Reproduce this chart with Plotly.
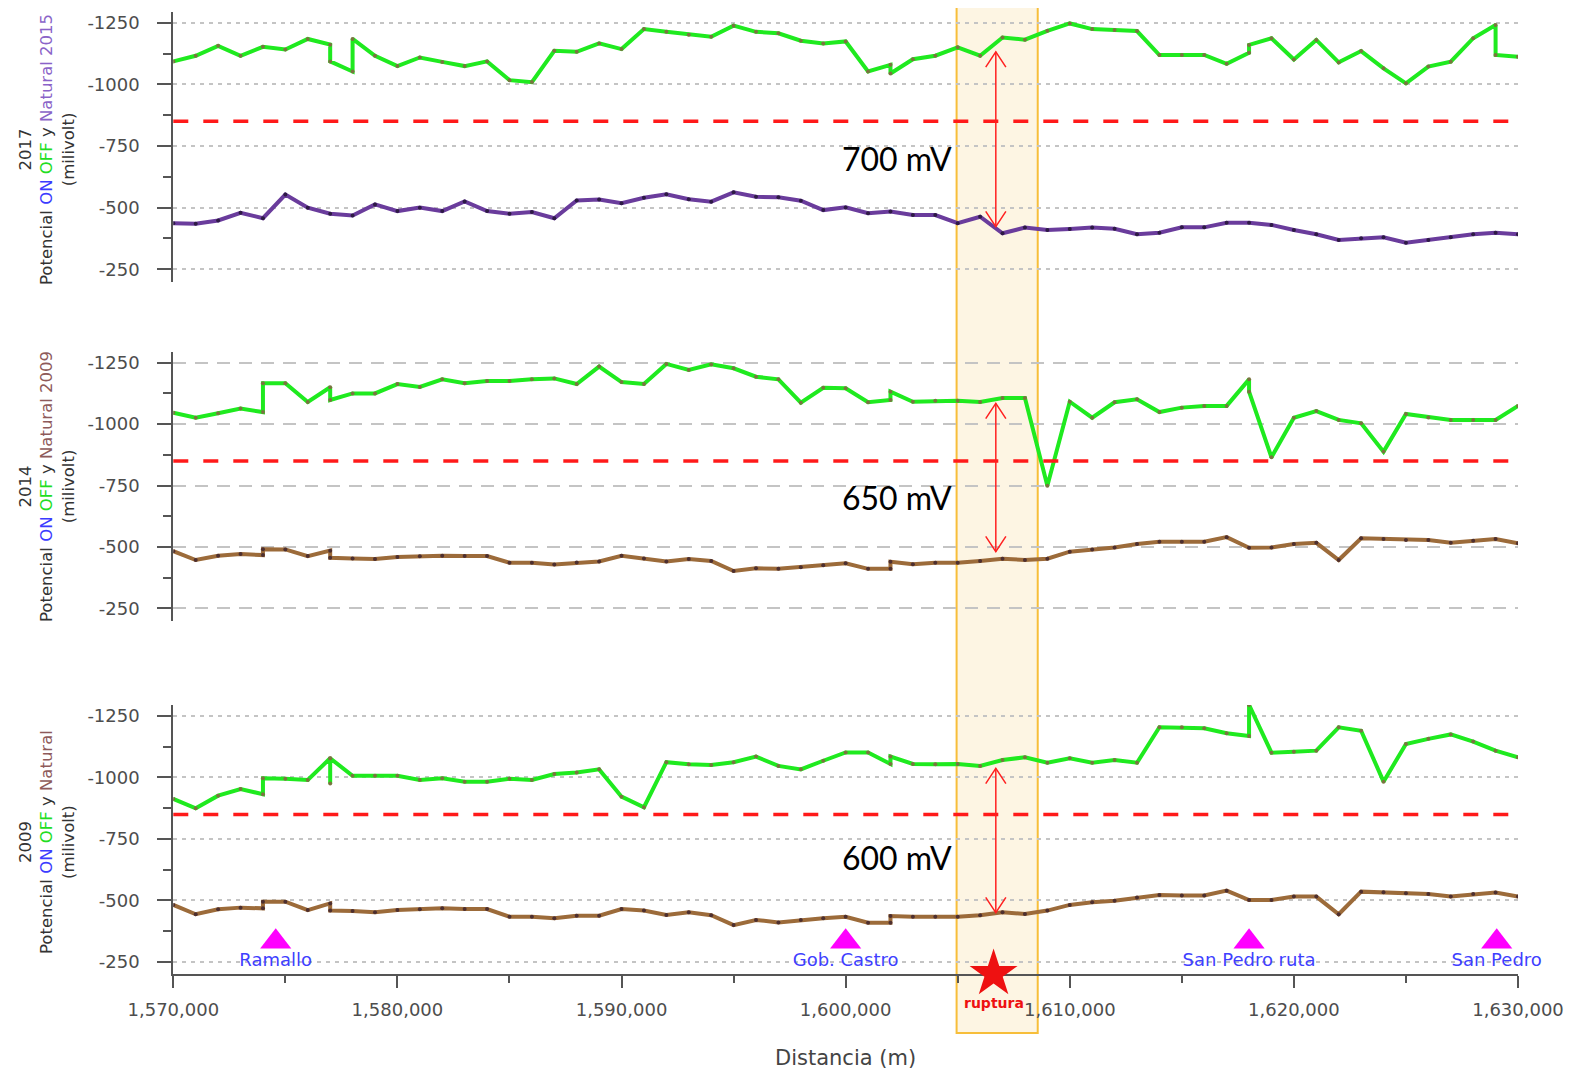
import plotly.graph_objects as go

# ---------------- data (distance in km, potential in mV) ----------------
KM_OFF_2017 = [1570, 1571, 1572, 1573, 1574, 1575, 1576, 1577, 1577, 1578, 1578, 1579, 1580, 1581, 1582, 1583,
               1584, 1585, 1586, 1587, 1588, 1589, 1590, 1591, 1592, 1593, 1594, 1595, 1596, 1597, 1598, 1599,
               1600, 1601, 1602, 1602, 1603, 1604, 1605, 1606, 1607, 1608, 1609, 1610, 1611, 1612, 1613, 1614,
               1615, 1616, 1617, 1618, 1618, 1619, 1620, 1621, 1622, 1623, 1624, 1625, 1626, 1627, 1628, 1629,
               1629, 1630]
MV_OFF_2017 = [-1093, -1116, -1156, -1116, -1152, -1141, -1184, -1161, -1093, -1052, -1184, -1116, -1074, -1109,
               -1091, -1074, -1093, -1017, -1009, -1136, -1132, -1166, -1143, -1224, -1213, -1201, -1193, -1238,
               -1213, -1207, -1177, -1166, -1174, -1052, -1079, -1044, -1102, -1116, -1150, -1116, -1190, -1181,
               -1217, -1247, -1224, -1220, -1216, -1119, -1119, -1119, -1083, -1128, -1160, -1187, -1101, -1180,
               -1089, -1135, -1065, -1004, -1072, -1092, -1187, -1241, -1119, -1112]

KM_NAT_2015 = list(range(1570, 1631))
MV_NAT_2015 = [-437, -435, -448, -479, -457, -553, -500, -475, -468, -513, -486, -500, -486, -525, -486, -475,
               -482, -457, -529, -533, -518, -540, -554, -534, -524, -562, -544, -542, -528, -490, -501, -477,
               -484, -470, -470, -437, -463, -396, -419, -409, -413, -419, -414, -392, -398, -420, -420, -439,
               -439, -430, -409, -392, -369, -376, -380, -358, -369, -380, -392, -398, -392]

KM_OFF_2014 = [1570, 1571, 1572, 1573, 1574, 1574, 1575, 1576, 1577, 1577, 1578, 1579, 1580, 1581, 1582, 1583,
               1584, 1585, 1586, 1587, 1588, 1589, 1590, 1591, 1592, 1593, 1594, 1595, 1596, 1597, 1598, 1599,
               1600, 1601, 1602, 1602, 1603, 1604, 1605, 1606, 1607, 1608, 1609, 1610, 1611, 1612, 1613, 1614,
               1615, 1616, 1617, 1618, 1618, 1619, 1620, 1621, 1622, 1623, 1624, 1625, 1626, 1627, 1628, 1629,
               1630]
MV_OFF_2014 = [-1046, -1026, -1044, -1063, -1049, -1166, -1166, -1090, -1150, -1098, -1125, -1125, -1163, -1151,
               -1182, -1166, -1175, -1175, -1182, -1186, -1163, -1234, -1171, -1163, -1245, -1220, -1243, -1227,
               -1193, -1182, -1087, -1148, -1146, -1089, -1098, -1132, -1091, -1095, -1095, -1090, -1106, -1106,
               -749, -1091, -1026, -1089, -1101, -1049, -1067, -1074, -1074, -1182, -1132, -865, -1026, -1053,
               -1017, -1003, -888, -1041, -1027, -1017, -1017, -1017, -1074]

KM_NAT_2009A = [1570, 1571, 1572, 1573, 1574, 1574, 1575, 1576, 1577, 1577, 1578, 1579, 1580, 1581, 1582, 1583,
                1584, 1585, 1586, 1587, 1588, 1589, 1590, 1591, 1592, 1593, 1594, 1595, 1596, 1597, 1598, 1599,
                1600, 1601, 1602, 1602, 1603, 1604, 1605, 1606, 1607, 1608, 1609, 1610, 1611, 1612, 1613, 1614,
                1615, 1616, 1617, 1618, 1619, 1620, 1621, 1622, 1623, 1624, 1625, 1626, 1627, 1628, 1629, 1630]
MV_NAT_2009A = [-483, -447, -464, -471, -467, -491, -490, -463, -485, -456, -453, -451, -459, -462, -464, -463,
                -463, -436, -436, -429, -437, -441, -464, -453, -441, -451, -443, -402, -413, -411, -418, -426,
                -434, -411, -411, -440, -430, -436, -436, -443, -452, -447, -452, -481, -490, -498, -512, -521,
                -521, -521, -540, -497, -498, -512, -517, -447, -535, -532, -528, -528, -517, -525, -532, -515]

KM_OFF_2009 = [1570, 1571, 1572, 1573, 1574, 1574, 1575, 1576, 1577, 1577, 1577, 1578, 1579, 1580, 1581, 1582,
               1583, 1584, 1585, 1586, 1587, 1588, 1589, 1590, 1591, 1592, 1593, 1594, 1595, 1596, 1597, 1598,
               1599, 1600, 1601, 1602, 1602, 1603, 1604, 1605, 1606, 1607, 1608, 1609, 1610, 1611, 1612, 1613,
               1614, 1615, 1616, 1617, 1618, 1618, 1619, 1620, 1621, 1622, 1623, 1624, 1625, 1626, 1627, 1628,
               1629, 1630]
MV_OFF_2009 = [-913, -875, -926, -953, -932, -997, -995, -990, -1078, -976, -1078, -1007, -1007, -1007, -990,
               -997, -983, -983, -995, -990, -1014, -1020, -1033, -922, -879, -1062, -1054, -1051, -1062, -1085,
               -1047, -1033, -1068, -1102, -1102, -1055, -1085, -1055, -1054, -1055, -1047, -1071, -1082, -1060,
               -1078, -1060, -1071, -1060, -1204, -1204, -1200, -1180, -1169, -1295, -1101, -1105, -1109, -1204,
               -1190, -983, -1136, -1157, -1175, -1146, -1109, -1082]

KM_NAT_2009B = KM_NAT_2009A
MV_NAT_2009B = [-482, -444, -464, -471, -468, -495, -495, -461, -488, -459, -457, -452, -461, -464, -468, -465,
                -465, -434, -434, -428, -438, -438, -465, -459, -441, -452, -440, -400, -421, -411, -421, -428,
                -434, -410, -410, -437, -434, -434, -434, -440, -452, -445, -459, -482, -493, -499, -512, -522,
                -520, -520, -540, -502, -502, -516, -516, -444, -536, -533, -529, -526, -516, -526, -532, -516]

CRITERIO_MV = -850
STATION_NAMES = ["Ramallo", "Gob. Castro", "San Pedro ruta", "San Pedro"]
STATION_KM = [1574.57, 1600.0, 1618.0, 1629.05]
STATION_MARK_MV = -332
STATION_LABEL_MV = -251
RUPTURA_KM = 1606.6
RUPTURA_MV = -202
BAND_KM = [1604.95, 1608.57]
ARROW_KM = 1606.7
ARROW_ENDS = [(-1132, -423), (-1084, -481), (-1037, -451)]
DIFF_LABELS = ["700 mV", "650 mV", "600 mV"]
DIFF_LABEL_MV = [-701, -701, -675]
DIFF_LABEL_KM = 1602.3
X_TICKS = [1570000, 1580000, 1590000, 1600000, 1610000, 1620000, 1630000]
X_MINOR = [1575000, 1585000, 1595000, 1605000, 1615000, 1625000]
Y_TICKS = [-1250, -1000, -750, -500, -250]
Y_TICK_LABELS = ["-1250", "-1000", "-750", "-500", "-250"]
Y_MINOR = [-1125, -875, -625, -375]
YEARS = ["2017", "2014", "2009"]
NATURAL_NAMES = ["Natural 2015", "Natural 2009", "Natural"]

# ---------------- styling / page geometry ----------------
PAGE_W, PAGE_H = 1576, 1072
BODY_MARGIN = 8                      # default html body margin
FIG_W, FIG_H = PAGE_W - BODY_MARGIN, PAGE_H - BODY_MARGIN


def px_x(sx):
    return (sx - BODY_MARGIN) / FIG_W


def px_y(sy):
    return 1 - (sy - BODY_MARGIN) / FIG_H


X_DOM = [px_x(173.3), px_x(1518)]
PANELS_PX = [(11.6, 281.6), (351.6, 620.7), (704.9, 974.3)]
Y_DOMS = [[px_y(b), px_y(t)] for t, b in PANELS_PX]
TITLE_CENTER_PX = [150, 487, 842]
Y_RANGE = [-200, -1295]
GREEN, GREEN_DOT = "#1FEA1F", "#7A7440"
PURPLE, PURPLE_DOT = "#6A3C9C", "#2E1A45"
BROWN, BROWN_DOT = "#9C6B3A", "#4D2F2F"
NAT_TITLE_COLORS = ["#8a63c8", "#8e5a5a", "#8e5a5a"]
GRID_DASH = ["4px,5px", "13px,9px", "4px,5px"]
FONT = "DejaVu Sans"
AXIS_COL = "#555555"
TICK_COL = "#4d4d4d"


def m(km_list):
    return [k * 1000 for k in km_list]


fig = go.Figure()

series = [
    (KM_OFF_2017, MV_OFF_2017, GREEN, GREEN_DOT, 1),
    (KM_NAT_2015, MV_NAT_2015, PURPLE, PURPLE_DOT, 1),
    (KM_OFF_2014, MV_OFF_2014, GREEN, GREEN_DOT, 2),
    (KM_NAT_2009A, MV_NAT_2009A, BROWN, BROWN_DOT, 2),
    (KM_OFF_2009, MV_OFF_2009, GREEN, GREEN_DOT, 3),
    (KM_NAT_2009B, MV_NAT_2009B, BROWN, BROWN_DOT, 3),
]
for km, mv, col, dot, p in series:
    sfx = "" if p == 1 else str(p)
    fig.add_trace(go.Scatter(
        x=m(km), y=mv, mode="lines+markers", xaxis="x" + sfx, yaxis="y" + sfx,
        line=dict(color=col, width=4), marker=dict(color=dot, size=4),
        hoverinfo="x+y", showlegend=False))

# stations
fig.add_trace(go.Scatter(
    x=m(STATION_KM), y=[STATION_MARK_MV] * len(STATION_KM), mode="markers",
    xaxis="x3", yaxis="y3", cliponaxis=False, showlegend=False,
    marker=dict(symbol="triangle-up", size=27, color="#FF00FF", line=dict(width=0))))
fig.add_trace(go.Scatter(
    x=m(STATION_KM), y=[STATION_LABEL_MV] * len(STATION_KM), mode="text",
    text=STATION_NAMES, textposition="middle center", xaxis="x3", yaxis="y3",
    cliponaxis=False, showlegend=False,
    textfont=dict(family=FONT, size=18, color="#3F3FFF")))
# rupture star
fig.add_trace(go.Scatter(
    x=[RUPTURA_KM * 1000], y=[RUPTURA_MV], mode="markers", xaxis="x3", yaxis="y3",
    cliponaxis=False, showlegend=False,
    marker=dict(symbol="star", size=36, color="#EE1111", line=dict(width=0))))

shapes = []
annotations = []
# highlighted band
shapes.append(dict(type="rect", xref="x3", yref="paper",
                   x0=BAND_KM[0] * 1000, x1=BAND_KM[1] * 1000,
                   y0=px_y(1033), y1=px_y(5.7),
                   fillcolor="#FDF5E3", line=dict(color="#F7BE3A", width=2), layer="below"))

head_h = 62
head_w = 450
ax_m = ARROW_KM * 1000
for i in range(3):
    sfx = "" if i == 0 else str(i + 1)
    yref = "y" + sfx
    # -850 mV criterion
    shapes.append(dict(type="line", xref="x" + sfx + " domain", yref=yref, x0=0, x1=1,
                       y0=CRITERIO_MV, y1=CRITERIO_MV,
                       line=dict(color="#FF1A1A", width=3.5, dash="15px,15px")))
    top, bot = ARROW_ENDS[i]
    shapes.append(dict(type="line", xref="x" + sfx, yref=yref, x0=ax_m, x1=ax_m, y0=top, y1=bot,
                       line=dict(color="#FF2020", width=1.5)))
    path = (f"M {ax_m - head_w},{top + head_h} L {ax_m},{top} L {ax_m + head_w},{top + head_h} "
            f"M {ax_m - head_w},{bot - head_h} L {ax_m},{bot} L {ax_m + head_w},{bot - head_h}")
    shapes.append(dict(type="path", xref="x" + sfx, yref=yref, path=path,
                       line=dict(color="#FF2020", width=1.5)))
    annotations.append(dict(x=DIFF_LABEL_KM * 1000, y=DIFF_LABEL_MV[i], xref="x" + sfx, yref=yref,
                            text=DIFF_LABELS[i], showarrow=False, xanchor="center", yanchor="middle",
                            font=dict(family="Lato", size=32, color="#000000")))
    # y-axis titles
    title = (f"{YEARS[i]}<br>Potencial <span style='color:#3b3bff'>ON</span> "
             f"<span style='color:#22dd22'>OFF</span> y "
             f"<span style='color:{NAT_TITLE_COLORS[i]}'>{NATURAL_NAMES[i]}</span><br>(milivolt)")
    annotations.append(dict(x=px_x(47), y=px_y(TITLE_CENTER_PX[i]), xref="paper", yref="paper",
                            text=title, textangle=-90, showarrow=False,
                            xanchor="center", yanchor="middle",
                            font=dict(family=FONT, size=16.5, color="#333333")))

annotations.append(dict(x=RUPTURA_KM * 1000, y=px_y(1003), xref="x3", yref="paper",
                        text="<b>ruptura</b>", showarrow=False, xanchor="center", yanchor="middle",
                        font=dict(family=FONT, size=14, color="#EE1111")))
annotations.append(dict(x=(X_DOM[0] + X_DOM[1]) / 2, y=px_y(1058), xref="paper", yref="paper",
                        text="Distancia (m)", showarrow=False, xanchor="center", yanchor="middle",
                        font=dict(family=FONT, size=21, color="#444444")))

layout = dict(
    template="none",
    width=FIG_W, height=FIG_H, margin=dict(l=0, r=0, t=0, b=0, pad=0), autosize=False,
    paper_bgcolor="white", plot_bgcolor="rgba(0,0,0,0)",
    showlegend=False, shapes=shapes, annotations=annotations,
    font=dict(family=FONT, color="#444444"),
)
for i in range(3):
    sfx = "" if i == 0 else str(i + 1)
    bottom = (i == 2)
    xa = dict(domain=X_DOM, range=[1570000, 1630000], anchor="y" + sfx, automargin=False,
              showgrid=False, zeroline=False, fixedrange=True)
    if i > 0:
        xa["matches"] = "x"
    if bottom:
        xa.update(showline=True, linecolor=AXIS_COL, linewidth=2, ticks="outside", ticklen=12,
                  tickwidth=1.5, tickcolor=AXIS_COL, tickvals=X_TICKS, tickformat=",d",
                  ticklabelstandoff=6, layer="below traces",
                  tickfont=dict(family=FONT, size=18, color=TICK_COL),
                  minor=dict(tickvals=X_MINOR, ticks="outside", ticklen=7, tickcolor=AXIS_COL,
                             tickwidth=1.5, showgrid=False))
    else:
        xa.update(showline=False, showticklabels=False, ticks="")
    ya = dict(domain=Y_DOMS[i], range=Y_RANGE, anchor="x" + sfx, automargin=False,
              showline=True, linecolor=AXIS_COL, linewidth=2,
              ticks="outside", ticklen=14, tickwidth=1.5, tickcolor=AXIS_COL,
              tickvals=Y_TICKS, ticktext=Y_TICK_LABELS, ticklabelstandoff=14,
              tickfont=dict(family=FONT, size=18, color=TICK_COL),
              showgrid=True, gridcolor="#c4c4c4", gridwidth=1.8, griddash=GRID_DASH[i],
              zeroline=False, fixedrange=True,
              minor=dict(tickvals=Y_MINOR, ticks="outside", ticklen=8, tickcolor=AXIS_COL,
                         tickwidth=1.5, showgrid=False))
    layout["xaxis" + sfx] = xa
    layout["yaxis" + sfx] = ya

fig.update_layout(**layout)
fig.write_html("out.html")
